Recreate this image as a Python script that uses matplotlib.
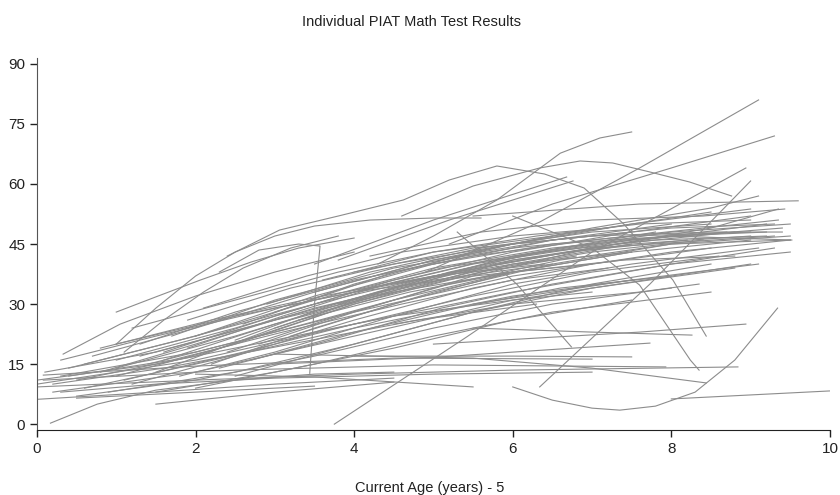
import matplotlib.pyplot as plt

# each curve = list of (age - 5, PIAT math score) points
upper_curves = [
    [(1.0, 28), (1.5, 31.8), (2.06, 36), (2.7, 40.5), (3.3, 44), (4.0, 46.5)],
    [(1.0, 20), (1.5, 29), (2.0, 37), (2.5, 43), (3.0, 47), (3.5, 49.5), (4.2, 51), (5.0, 51.5), (5.6, 51.5)],
    [(1.1, 18), (1.6, 26), (2.1, 33), (2.6, 39), (3.2, 44), (3.8, 47)],
    [(0.33, 17.5), (1.05, 25), (2.0, 32), (3.0, 38), (4.0, 43)],
    [(2.4, 42), (3.06, 48.5), (3.8, 52), (4.62, 56), (5.2, 61), (5.8, 64.5), (6.4, 62.5), (6.9, 59), (7.4, 50), (8.02, 36), (8.44, 22)],
    [(4.6, 52), (5.5, 59.5), (6.34, 64), (6.85, 65.75), (7.26, 65.25), (7.73, 63), (8.23, 60.5), (8.76, 57)],
    [(4.3, 40), (5.0, 47), (5.8, 56), (6.6, 67.7), (7.1, 71.5), (7.5, 73)],
    [(4.9, 38), (6.34, 50.5), (7.6, 64), (9.1, 81)],
    [(5.2, 45), (6.5, 55), (8.0, 64), (9.3, 72)],
    [(3.5, 40), (5.0, 51), (6.68, 61.75)],
    [(3.8, 41), (5.2, 51), (6.76, 60.75)],
    [(5.5, 52), (7.6, 55), (9.6, 55.8)],
    [(2.3, 38), (2.8, 43.5), (3.3, 45), (3.57, 44.5), (3.5, 30), (3.44, 12.7)],
]

bundle_curves = [
    [(0.0, 10), (2, 16), (4, 25), (6, 33), (8, 40), (9.3, 44)],
    [(0.3, 12), (2, 18), (4, 28), (6, 37), (8, 43), (9.5, 46)],
    [(0.5, 11), (2, 17), (4, 30), (6, 40), (7.5, 45)],
    [(1.0, 12), (2.5, 20), (4, 30), (6, 41), (8, 47), (9.2, 50)],
    [(0.8, 13), (2, 20), (3.5, 29), (5, 36), (6.5, 40)],
    [(1.5, 13), (3, 24), (4.5, 34), (6, 42), (7.8, 48)],
    [(0.2, 8), (2, 13), (4, 22), (6, 31), (8, 37), (9, 40)],
    [(0.6, 9), (2, 15), (4, 24), (6, 32), (7.5, 36)],
    [(1.2, 10), (2.5, 17), (4, 26), (5.5, 34), (7, 40), (8.5, 44)],
    [(0.4, 14), (1.8, 21), (3.5, 30), (5, 37), (7, 44), (9.3, 47)],
    [(1.0, 16), (2.5, 24), (4, 33), (5.5, 40), (7.5, 46), (9.4, 49)],
    [(0.1, 13), (1.5, 18), (3, 26), (4.5, 33), (6, 38)],
    [(1.6, 18), (3, 27), (4.5, 36), (6, 43), (7.5, 48), (9.0, 52)],
    [(2.0, 22), (3.5, 32), (5, 40), (6.5, 46), (8, 50)],
    [(0.7, 17), (2, 24), (3.5, 33), (5, 41), (6.5, 47), (8.5, 53)],
    [(1.3, 20), (2.5, 28), (4, 36), (5.5, 42), (7, 46), (9.35, 51)],
    [(2.2, 15), (3.5, 24), (5, 33), (6.5, 40), (8, 45), (9.5, 47)],
    [(1.8, 12), (3, 18), (4.5, 27), (6, 35), (7.5, 40), (9.1, 44)],
    [(0.9, 8), (2.5, 13), (4, 20), (5.5, 28), (7, 34), (8.8, 39)],
    [(2.5, 12), (4, 20), (5.5, 28), (7, 35), (8.5, 40)],
    [(1.4, 15), (3, 23), (4.5, 31), (6, 38), (7.5, 43)],
    [(0.3, 16), (1.5, 22), (3, 29), (4.5, 35), (6, 40), (7.5, 43)],
    [(1.0, 20), (2.5, 27), (4, 33), (5.5, 37), (7, 40)],
    [(2.6, 25), (4, 35), (5.5, 43), (7, 49), (8.5, 54), (9.1, 57)],
    [(3.0, 28), (4.5, 38), (6, 45), (7.5, 50), (9.0, 53.75)],
    [(1.9, 26), (3.2, 34), (4.5, 40), (6, 45), (7.5, 48)],
    [(2.8, 20), (4, 28), (5.5, 37), (7, 44), (8.5, 49), (9.35, 53.75)],
    [(3.2, 22), (4.5, 30), (6, 38), (7.5, 43), (9.0, 46)],
    [(0.5, 7), (2, 11), (3.5, 17), (5, 24), (6.5, 30), (8, 34)],
    [(1.5, 8), (3, 13), (4.5, 19), (6, 26), (7.5, 31)],
    [(2.0, 9), (3.5, 15), (5, 22), (6.5, 28), (8.5, 33)],
    [(0.0, 11), (1.5, 15), (3, 21), (4.5, 27), (6, 31), (7, 33)],
    [(1.0, 14), (2.5, 22), (4, 31), (5.5, 38), (7, 43), (8.4, 46)],
    [(2.4, 18), (3.8, 27), (5.2, 35), (6.6, 41), (8, 45), (9.5, 46)],
    [(0.6, 15), (2, 22), (3.5, 31), (5, 39), (6.5, 44), (8, 47), (9.2, 48)],
    [(1.7, 22), (3, 31), (4.5, 39), (6, 44), (7.5, 47), (9, 48)],
    [(3.5, 33), (5, 41), (6.5, 46), (8, 49), (9.3, 50)],
    [(4.0, 38), (5.5, 44), (7, 47), (8.5, 48), (9.4, 48)],
    [(2.1, 29), (3.4, 37), (4.6, 43), (6, 47), (7.2, 49)],
    [(1.2, 24), (2.5, 31), (3.8, 38), (5, 43), (6.5, 47)],
    [(0.8, 19), (2.2, 26), (3.6, 32), (5, 37), (6.4, 40)],
    [(2.9, 30), (4.2, 38), (5.6, 44), (7, 48), (8.5, 50)],
    [(3.8, 30), (5.2, 38), (6.6, 44), (8, 48), (9.5, 50)],
    [(4.5, 35), (6, 41), (7.5, 45), (9.0, 47)],
    [(1.1, 11), (2.6, 18), (4, 25), (5.5, 32), (7, 38), (8.6, 42)],
    [(0.2, 10), (1.6, 14), (3.2, 20), (4.8, 26), (6.3, 30)],
    [(2.3, 14), (3.7, 21), (5.1, 29), (6.5, 35), (8, 40), (9.5, 43)],
    [(3.3, 26), (4.7, 33), (6, 38), (7.4, 41), (8.8, 42)],
    [(2.7, 16), (4, 23), (5.3, 29), (6.6, 34), (8, 37)],
    [(1.3, 17), (2.8, 25), (4.3, 33), (5.8, 40), (7.3, 45), (8.8, 48)],
    [(3.6, 36), (5, 43), (6.3, 47), (7.6, 50), (9.0, 51)],
    [(5.0, 40), (6.5, 45), (8, 47), (9.52, 46)],
    [(4.2, 42), (5.6, 48), (7, 51), (8.4, 52), (9.43, 53.75)],
    [(4.5, 25), (6, 30), (7.6, 33), (8.35, 35)],
    [(5.5, 30), (7.5, 36), (9.1, 40)],
    [(1.6, 16), (3.0, 25), (4.3, 32), (5.6, 38), (6.8, 42)],
    [(2.5, 21), (3.6, 29), (4.8, 36), (6.1, 42), (7.4, 46), (8.7, 48)],
    [(3.0, 24), (4.1, 31), (5.3, 38), (6.7, 43), (8.2, 46)],
    [(1.9, 19), (3.1, 27), (4.4, 35), (5.7, 41), (7.0, 45)],
    [(0.4, 12), (1.7, 16), (3.1, 23), (4.6, 30), (6.0, 36), (7.2, 39)],
    [(3.9, 33), (5.1, 39), (6.4, 43), (7.8, 46), (9.2, 47)],
]

crossing_curves = [
    [(3.75, 0), (5.42, 21.8), (7.0, 43), (8.94, 64)],
    [(6.34, 9.3), (7.73, 35), (9.0, 60.75)],
    [(5.3, 48), (6.05, 35), (6.74, 19.3)],
    [(6.0, 52), (7.0, 44), (7.6, 34.75), (8.24, 16), (8.35, 13.5)],
    [(5.0, 20), (7.6, 23), (8.94, 25)],
    [(5.5, 24), (7.0, 23), (8.26, 22.25)],
    [(6.0, 9.3), (6.5, 6), (7.0, 4), (7.35, 3.5), (7.8, 4.5), (8.3, 8), (8.8, 16), (9.34, 29)],
    [(8.0, 6.3), (9.0, 7.3), (10.0, 8.3)],
]

low_curves = [
    [(0.17, 0.25), (0.76, 5), (1.5, 8.5), (2.5, 11), (3.5, 12.5), (4.5, 13)],
    [(0.0, 9.3), (2, 11), (4, 12.5), (6, 13.5), (8.84, 14.3)],
    [(0.08, 12.25), (2, 14.5), (4.5, 16.5), (7.0, 16.25)],
    [(0.08, 11), (2.5, 13.5), (5, 14.8), (7.93, 14.3)],
    [(3.0, 17.5), (5.5, 16.5), (7, 14), (8.44, 10.3)],
    [(2.0, 12.5), (3.5, 11.8), (5.5, 9.3)],
    [(0.0, 6.2), (1.5, 8), (3, 10), (4.5, 11.5)],
    [(0.5, 6.5), (2, 8), (3.5, 9.5)],
    [(1.5, 5), (3, 8), (4.5, 10.5)],
    [(3.0, 15), (5.08, 16.8), (7.73, 20.25)],
    [(4.0, 17), (6, 17), (7.5, 16.8)],
    [(0.3, 8), (1.5, 10), (3, 11.5), (5, 12.5), (7, 13)],
]

x_ticks = [0, 2, 4, 6, 8, 10]
y_ticks = [0, 15, 30, 45, 60, 75, 90]

plt.rcParams['font.family'] = ['Liberation Sans', 'DejaVu Sans']

fig = plt.figure(figsize=(8.4, 4.95), dpi=100)
ax = fig.add_axes([0.044, 0.131, 0.944, 0.752])

for group in (bundle_curves, low_curves, crossing_curves, upper_curves):
    for pts in group:
        xs = [p[0] for p in pts]
        ys = [p[1] for p in pts]
        ax.plot(xs, ys, color='#8c8c8c', linewidth=0.8)

ax.set_xlim(0, 10)
ax.set_ylim(-1.5, 91.5)
ax.set_xticks(x_ticks)
ax.set_yticks(y_ticks)
ax.tick_params(direction='out', length=5, width=1, labelsize=11, colors='#222222')
for side in ('top', 'right'):
    ax.spines[side].set_visible(False)
ax.spines['left'].set_color('#555555')
ax.spines['bottom'].set_color('#222222')

fig.text(0.49, 0.955, 'Individual PIAT Math Test Results', ha='center', va='center', fontsize=10.5, color='#222222')
fig.text(0.512, 0.015, 'Current Age (years) - 5', ha='center', va='center', fontsize=10.5, color='#222222')

fig.savefig('out.png', dpi=100)
